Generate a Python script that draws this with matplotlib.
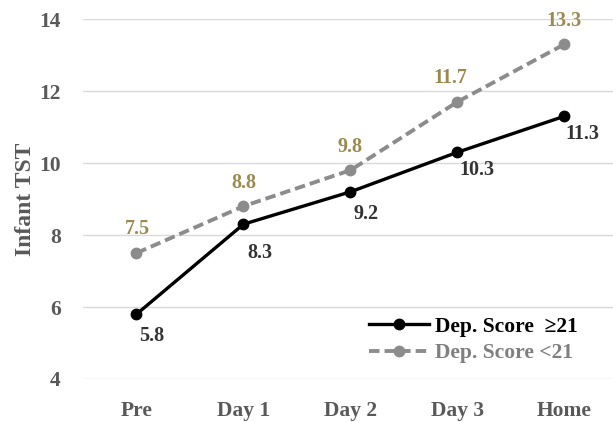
import matplotlib.pyplot as plt
import numpy as np

days = ['Pre', 'Day 1', 'Day 2', 'Day 3', 'Home']
dep_high = [5.8, 8.3, 9.2, 10.3, 11.3]
dep_low = [7.5, 8.8, 9.8, 11.7, 13.3]

plt.rcParams['font.family'] = ['Liberation Serif', 'DejaVu Serif']
plt.rcParams['font.weight'] = 'bold'

fig = plt.figure(figsize=(6.13, 4.22), dpi=100)
ax = fig.add_axes([0.1354, 0.1019, 0.864, 0.853])

x = np.arange(len(days))
ax.plot(x, dep_low, color='#8c8c8c', lw=2.8, ls=(0, (2.7, 1.3)), marker='o', ms=7.5,
        label='Dep. Score <21', zorder=3)
ax.plot(x, dep_high, color='black', lw=2.4, marker='o', ms=7.5,
        label='Dep. Score  \u226521', zorder=4)

# label offsets in points
low_dx = [1, 0, 0, -5, 0]
high_dx = [2, 3, 2, 1, 1]
high_dy = [-16, -21, -16, -13, -13]
for i, v in enumerate(dep_low):
    ax.annotate(f'{v:.1f}', (i, v), xytext=(low_dx[i], 17), textcoords='offset points',
                ha='center', va='center', fontsize=14.5, color='#9b8a4e', fontweight='bold')
for i, v in enumerate(dep_high):
    ax.annotate(f'{v:.1f}', (i, v), xytext=(high_dx[i], high_dy[i]), textcoords='offset points',
                ha='left', va='center', fontsize=14.5, color='#333333', fontweight='bold')

ax.set_xlim(-0.5, 4.45)
ax.set_ylim(4, 14)
ax.set_yticks([4, 6, 8, 10, 12, 14])
ax.set_xticks(x)
ax.set_xticklabels(days)
ax.tick_params(length=0, labelsize=15.5, labelcolor='#595959')
ax.tick_params(axis='x', pad=16)
ax.tick_params(axis='y', pad=16)
ax.yaxis.grid(True, color='#d9d9d9', lw=1)
ax.set_axisbelow(True)
for s in ax.spines.values():
    s.set_visible(False)
ax.set_ylabel('Infant TST', fontsize=17, color='#595959', fontweight='bold', labelpad=2)

h, l = ax.get_legend_handles_labels()
leg = ax.legend(h[::-1], l[::-1], loc='lower right', bbox_to_anchor=(0.95, 0.02),
                borderaxespad=0, frameon=False, fontsize=15.5, handlelength=2.8,
                handletextpad=0.25, labelspacing=0.3)
leg.get_texts()[0].set_color('black')
leg.get_texts()[1].set_color('#7f7f7f')

fig.savefig('out.png', dpi=100)
